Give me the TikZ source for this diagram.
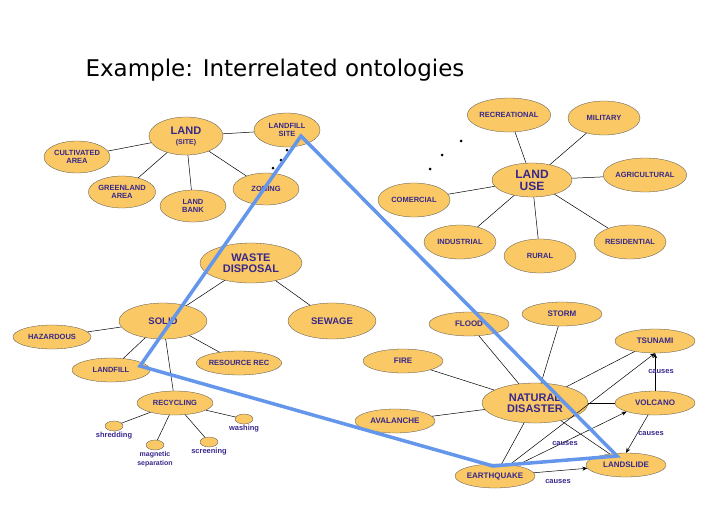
\documentclass[tikz,border=0pt]{standalone}
\usepackage{fontspec}
\setmainfont{Liberation Sans}
\newfontfamily\titlefont{DejaVu Sans}
\usetikzlibrary{shapes.geometric,arrows.meta}
\definecolor{fillc}{RGB}{250,200,100}
\definecolor{txtc}{RGB}{55,40,140}
\definecolor{bluel}{RGB}{100,150,235}
\tikzset{
 e/.style={ellipse,draw=black!70,line width=0.3pt,fill=fillc,inner sep=0pt,text=txtc,font=\bfseries\fontsize{#1}{#1}\selectfont,align=center},
 e/.default=7.5,
 sz/.style 2 args={minimum width=#1pt,minimum height=#2pt},
 ln/.style={draw=black,line width=0.5pt},
 ar/.style={ln,-{Stealth[length=5pt,width=4pt]}},
 lab/.style={text=txtc,font=\bfseries\fontsize{7.5}{8.5}\selectfont,align=center},
 dot/.style={circle,fill=black,inner sep=0pt,minimum size=3pt}
}
\begin{document}
\begin{tikzpicture}[x=1pt,y=-1pt]
\useasboundingbox (0,0) rectangle (720,504);
\node[anchor=west,font=\titlefont\fontsize{23}{26}\selectfont] (title) at (82,70) {Example: Interrelated ontologies};
% land
\node[e=11,sz={74}{38}] (land) at (186,136) {LAND\\[-1pt]{\fontsize{7}{7}\selectfont (SITE)}};
\node[e,sz={66}{34}] (lsite) at (287,130) {LANDFILL\\SITE};
\node[e,sz={66}{32}] (cult) at (77,157) {CULTIVATED\\AREA};
\node[e,sz={66}{32}] (green) at (122,192) {GREENLAND\\AREA};
\node[e,sz={66}{32}] (bank) at (193,206) {LAND\\BANK};
\node[e,sz={66}{32}] (zon) at (266,189) {ZONING};
\draw[ln] (land)--(lsite); \draw[ln] (land)--(cult); \draw[ln] (land)--(green);
\draw[ln] (land)--(bank); \draw[ln] (land)--(zon);
\node[dot] (d1) at (287,150) {}; \node[dot] (d2) at (281,160) {}; \node[dot] (d3) at (273,168) {};
% waste
\node[e=11,sz={102}{40}] (waste) at (251,263) {WASTE\\DISPOSAL};
\node[e=9.5,sz={88}{36}] (solid) at (163,321) {SOLID};
\node[e=9.5,sz={88}{36}] (sew) at (332,321) {SEWAGE};
\node[e,sz={78}{24}] (haz) at (52,337) {HAZARDOUS};
\node[e,sz={78}{24}] (lfill) at (111,370) {LANDFILL};
\node[e,sz={78}{24}] (res) at (239,363) {RESOURCE REC};
\node[e,sz={76}{24}] (recy) at (175,403) {RECYCLING};
\draw[ln] (waste)--(solid); \draw[ln] (waste)--(sew);
\draw[ln] (solid)--(haz); \draw[ln] (solid)--(lfill); \draw[ln] (solid)--(res); \draw[ln] (solid)--(recy);
\node[e,sz={18}{10}] (c1) at (114,426) {}; \node[lab,anchor=north] (t1) at (114,429) {shredding};
\node[e,sz={18}{10}] (c2) at (155,445) {}; \node[lab,anchor=north,font=\bfseries\fontsize{7}{8.5}\selectfont] (t2) at (155,448) {magnetic\\separation};
\node[e,sz={18}{10}] (c3) at (209,442) {}; \node[lab,anchor=north] (t3) at (209,445) {screening};
\node[e,sz={18}{10}] (c4) at (244,419) {}; \node[lab,anchor=north] (t4) at (244,422) {washing};
\draw[ln] (recy)--(c1); \draw[ln] (recy)--(c2); \draw[ln] (recy)--(c3); \draw[ln] (recy)--(c4);
% land use
\node[e=12,sz={80}{34}] (luse) at (532,180) {LAND\\USE};
\node[e,sz={72}{34}] (rec) at (509,115) {RECREATIONAL};
\node[e,sz={72}{34}] (mil) at (604,118) {MILITARY};
\node[e,sz={72}{34}] (agr) at (645,175) {AGRICULTURAL};
\node[e,sz={72}{34}] (com) at (414,200) {COMERCIAL};
\node[e,sz={72}{34}] (ind) at (460,242) {INDUSTRIAL};
\node[e,sz={72}{34}] (rur) at (540,256) {RURAL};
\node[e,sz={72}{34}] (resi) at (630,242) {RESIDENTIAL};
\foreach \n in {rec,mil,agr,com,ind,rur,resi} \draw[ln] (luse)--(\n);
\node[dot] (d4) at (461,141) {}; \node[dot] (d5) at (442,155) {}; \node[dot] (d6) at (430,169) {};
% natural disaster
\node[e=11,sz={106}{40}] (nat) at (535,403) {NATURAL\\DISASTER};
\node[e=8,sz={80}{24}] (flood) at (469,324) {FLOOD};
\node[e=8,sz={80}{24}] (storm) at (562,314) {STORM};
\node[e=8,sz={80}{24}] (fire) at (403,361) {FIRE};
\node[e=8,sz={80}{24}] (tsu) at (655,341) {TSUNAMI};
\node[e=8,sz={80}{24}] (vol) at (655,403) {VOLCANO};
\node[e=8,sz={80}{24}] (ava) at (395,421) {AVALANCHE};
\node[e=8,sz={80}{24}] (eq) at (495,476) {EARTHQUAKE};
\node[e=8,sz={80}{24}] (ls) at (626,465) {LANDSLIDE};
\foreach \n in {flood,storm,fire,tsu,vol,ava,eq,ls} \draw[ln] (nat)--(\n);
\draw[ar] (vol)--(tsu);
\draw[ar] (eq)--(tsu.south);
\draw[ar] (eq)--(vol.south west);
\draw[ar] (eq)--(ls);
\draw[ar] (vol)--(ls.north);
\node[lab] (ca1) at (661,372) {causes};
\node[lab] (ca2) at (651,434) {causes};
\node[lab] (ca3) at (565,444) {causes};
\node[lab] (ca4) at (558,482) {causes};
% blue triangle
\coordinate (b1) at (301,136); \coordinate (b2) at (140,366);
\coordinate (b3) at (493,466); \coordinate (b4) at (617,456);
\draw[bluel,line width=3.5pt,line join=miter] (b1)--(b2)--(b3)--(b4)--cycle;
\end{tikzpicture}
\end{document}
